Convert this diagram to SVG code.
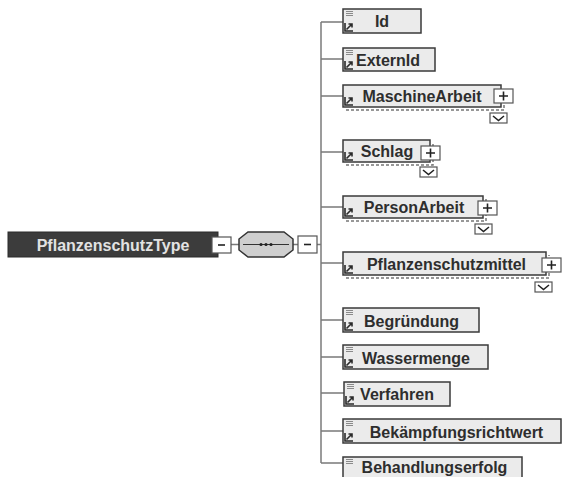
<svg xmlns="http://www.w3.org/2000/svg" xmlns:xlink="http://www.w3.org/1999/xlink" width="563" height="477" viewBox="0 0 563 477">
<style>
.bg{fill:#ffffff}
.box{fill:#ebebeb;stroke:#3a3a3a;stroke-width:1.5}
.lbl{font-family:"Liberation Sans",Arial,sans-serif;font-weight:bold;font-size:16px;fill:#2e2e2e;text-anchor:middle}
.root{fill:#3c3c3c;stroke:#2a2a2a;stroke-width:1}
.rootlbl{font-family:"Liberation Sans",Arial,sans-serif;font-weight:bold;font-size:16px;fill:#e2e2e2;text-anchor:middle}
.btn{fill:#ffffff;stroke:#555555;stroke-width:1.2}
.sign{stroke:#222222;stroke-width:1.6;fill:none}
.conn{stroke:#7a7a7a;stroke-width:1.5;fill:none}
.dash{stroke:#777777;stroke-width:1.5;stroke-dasharray:3 2;fill:none}
.icon{stroke:#8a8a8a;stroke-width:1;fill:none}
.arr{stroke:#2a2a2a;stroke-width:1.6;fill:none}
.oct{fill:#cfcfcf;stroke:#333333;stroke-width:1.5}
</style>
<defs>
<g id="lines"><path class="icon" d="M0 0.5h7M0 2.5h7M0 4.5h7"/></g>
<g id="ref"><path class="arr" d="M0 -8V0H8"/><path class="arr" d="M1.5 -1.5L7 -7M3.5 -7H7V-3.5"/></g>
<g id="plus"><rect class="btn" x="0" y="0" width="19" height="14"/><path class="sign" d="M5 7h9M9.5 2.5v9"/></g>
<g id="chev"><rect class="btn" x="0" y="0" width="17" height="10"/><path class="sign" d="M3 3l5.5 4.5l5.5-4.5"/></g>
</defs>
<rect class="bg" x="0" y="0" width="563" height="477"/>

<g id="connectors">
<path class="conn" d="M321 22V463"/>
<path class="conn" d="M321 22H343M321 59H343M321 96H343M321 152H343M321 207H343M321 263H343M321 320H343M321 357H343M321 393H344M321 431H343M321 463H343"/>
<path class="conn" d="M231 244.5H239M293 244.5H298M317 244.5H321"/>
</g>

<g id="PflanzenschutzType">
<rect class="root" x="8" y="232" width="210" height="25"/>
<text class="rootlbl" x="113" y="250.5">PflanzenschutzType</text>
<rect class="btn" x="212" y="237" width="19" height="16"/>
<path class="sign" d="M218 245h7"/>
</g>

<g id="sequence">
<polygon class="oct" points="248,232 284,232 293,239 293,250 284,257 248,257 239,250 239,239"/>
<path d="M243 244.5H289" stroke="#333" stroke-width="1"/>
<circle cx="261" cy="244.5" r="1.6" fill="#222"/>
<circle cx="266" cy="244.5" r="1.6" fill="#222"/>
<circle cx="271" cy="244.5" r="1.6" fill="#222"/>
<rect class="btn" x="298" y="236" width="19" height="17"/>
<path class="sign" d="M304 244.5h7"/>
</g>

<g id="Id">
<rect class="box" x="343" y="9" width="78" height="24"/>
<use href="#lines" x="346" y="11"/>
<use href="#ref" x="345" y="31"/>
<text class="lbl" x="382" y="27">Id</text>
</g>

<g id="ExternId">
<rect class="box" x="343" y="48" width="92" height="23"/>
<use href="#lines" x="346" y="50"/>
<use href="#ref" x="345" y="69"/>
<text class="lbl" x="388" y="65.5">ExternId</text>
</g>

<g id="MaschineArbeit">
<path class="dash" d="M346 110H504V88"/>
<rect class="box" x="343" y="85" width="158" height="22"/>
<use href="#ref" x="345" y="105"/>
<text class="lbl" x="422" y="102">MaschineArbeit</text>
<use href="#plus" x="494" y="89"/>
<use href="#chev" x="490" y="113"/>
</g>

<g id="Schlag">
<path class="dash" d="M346 165H433V143"/>
<rect class="box" x="343" y="140" width="87" height="22"/>
<use href="#ref" x="345" y="160"/>
<text class="lbl" x="387" y="157">Schlag</text>
<use href="#plus" x="421" y="146"/>
<use href="#chev" x="420" y="167"/>
</g>

<g id="PersonArbeit">
<path class="dash" d="M346 221H486V199"/>
<rect class="box" x="343" y="196" width="140" height="22"/>
<use href="#ref" x="345" y="216"/>
<text class="lbl" x="414" y="213">PersonArbeit</text>
<use href="#plus" x="478" y="201"/>
<use href="#chev" x="475" y="224"/>
</g>

<g id="Pflanzenschutzmittel">
<path class="dash" d="M346 278H549V255"/>
<rect class="box" x="343" y="252" width="203" height="23"/>
<use href="#ref" x="345" y="273"/>
<text class="lbl" x="446.5" y="269.5">Pflanzenschutzmittel</text>
<use href="#plus" x="542" y="258"/>
<use href="#chev" x="535" y="282"/>
</g>

<g id="Begruendung">
<rect class="box" x="343" y="308" width="136" height="24"/>
<use href="#lines" x="346" y="310"/>
<use href="#ref" x="345" y="330"/>
<text class="lbl" x="411.5" y="326.5">Begründung</text>
</g>

<g id="Wassermenge">
<rect class="box" x="343" y="345" width="145" height="24"/>
<use href="#lines" x="346" y="347"/>
<use href="#ref" x="345" y="367"/>
<text class="lbl" x="416" y="363.5">Wassermenge</text>
</g>

<g id="Verfahren">
<rect class="box" x="344" y="382" width="106" height="24"/>
<use href="#lines" x="347" y="384"/>
<use href="#ref" x="346" y="404"/>
<text class="lbl" x="397" y="399.5">Verfahren</text>
</g>

<g id="Bekaempfungsrichtwert">
<rect class="box" x="343" y="419" width="218" height="24"/>
<use href="#lines" x="346" y="421"/>
<use href="#ref" x="345" y="441"/>
<text class="lbl" x="456.5" y="437.5">Bekämpfungsrichtwert</text>
</g>

<g id="Behandlungserfolg">
<rect class="box" x="343" y="457" width="179" height="24"/>
<use href="#lines" x="346" y="459"/>
<text class="lbl" x="434.5" y="473">Behandlungserfolg</text>
</g>
</svg>
